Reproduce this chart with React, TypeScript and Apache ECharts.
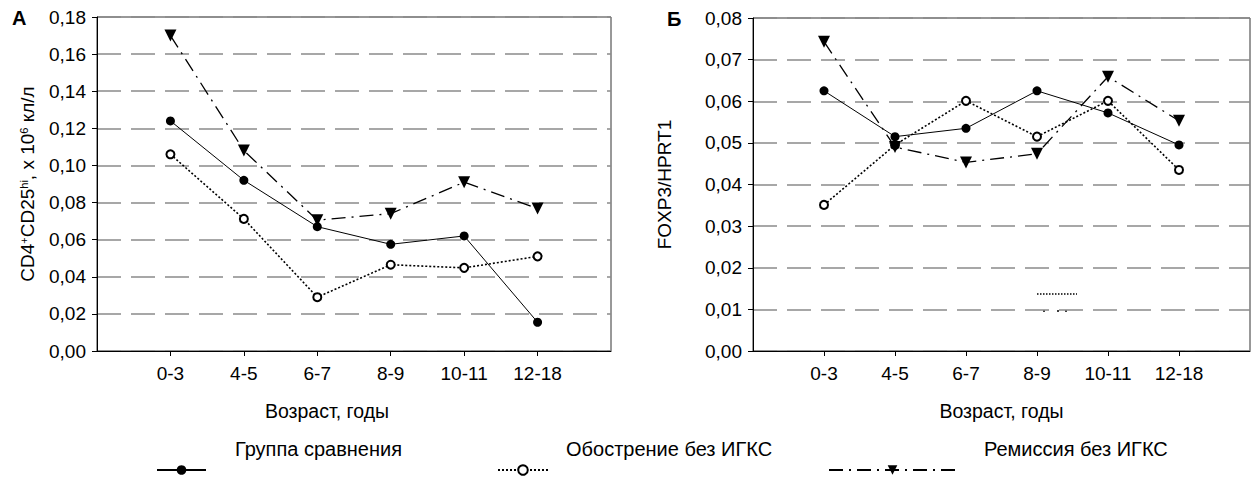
import React, { useEffect, useRef } from 'react';
import * as echarts from 'echarts';

const categories = ['0-3', '4-5', '6-7', '8-9', '10-11', '12-18'];
const seriesNames = ['Группа сравнения', 'Обострение без ИГКС', 'Ремиссия без ИГКС'];

const aComparison = [0.124, 0.092, 0.067, 0.0575, 0.062, 0.0155];
const aExacerbation = [0.106, 0.0712, 0.029, 0.0465, 0.0448, 0.051];
const aRemission = [0.170, 0.108, 0.0705, 0.074, 0.091, 0.0768];

const bComparison = [0.0625, 0.0515, 0.0535, 0.0625, 0.0572, 0.0495];
const bExacerbation = [0.0351, 0.0495, 0.0601, 0.0515, 0.0601, 0.0435];
const bRemission = [0.0743, 0.049, 0.0453, 0.0474, 0.0659, 0.0553];

const aAxis = { max: 0.18, interval: 0.02 };
const bAxis = { max: 0.08, interval: 0.01 };

const FONT = "'Liberation Sans', Arial, sans-serif";

const axisCats = ['', ...categories, ''];
const pad = (v: number[]) => [null, ...v, null];

const styles: any[] = [
  {
    symbol: 'circle',
    symbolSize: 9,
    itemStyle: { color: '#000' },
    lineStyle: { color: '#000', width: 1, type: 'solid' },
  },
  {
    symbol: 'emptyCircle',
    symbolSize: 8,
    itemStyle: { color: '#000', borderColor: '#000', borderWidth: 1 },
    lineStyle: { color: '#000', width: 1.6, type: [2, 2] },
  },
  {
    symbol: 'triangle',
    symbolRotate: 180,
    symbolSize: 12,
    itemStyle: { color: '#000' },
    lineStyle: { color: '#000', width: 1.3, type: [14, 6, 2, 6] },
  },
];

function makeSeries(vals: number[], idx: number, gi: number) {
  return {
    type: 'line',
    name: seriesNames[idx],
    xAxisIndex: gi,
    yAxisIndex: gi,
    data: pad(vals),
    connectNulls: false,
    ...styles[idx],
  };
}

function xAxisCfg(gi: number, nameShift: number) {
  return {
    type: 'category',
    gridIndex: gi,
    data: axisCats,
    boundaryGap: false,
    axisLine: { lineStyle: { color: '#000', width: 1 } },
    axisTick: {
      length: 5,
      interval: (i: number) => i > 0 && i < axisCats.length - 1,
      lineStyle: { color: '#000' },
    },
    axisLabel: { interval: 0, color: '#000', fontSize: 19, fontFamily: FONT, margin: 13 },
    name: 'Возраст, годы',
    nameLocation: 'middle',
    nameGap: 50,
    nameTextStyle: {
      color: '#000',
      fontSize: 19.5,
      fontFamily: FONT,
      padding: nameShift > 0 ? [0, nameShift * 2, 0, 0] : 0,
    },
    splitLine: { show: false },
  };
}

function yAxisCfg(gi: number, ax: { max: number; interval: number }, name: string, gap: number, rich?: any) {
  return {
    type: 'value',
    gridIndex: gi,
    min: 0,
    max: ax.max,
    interval: ax.interval,
    axisLine: { show: true, lineStyle: { color: '#000', width: 1 } },
    axisTick: { show: true, length: 5, lineStyle: { color: '#000' } },
    axisLabel: {
      color: '#000',
      fontSize: 19,
      fontFamily: FONT,
      margin: 11,
      formatter: (v: number) => v.toFixed(2).replace('.', ','),
    },
    splitLine: { show: true, lineStyle: { color: '#8a8a8a', width: 1.5, type: [24, 10] } },
    name,
    nameLocation: 'middle',
    nameRotate: 90,
    nameGap: gap,
    nameTextStyle: { color: '#000', fontSize: 19, fontFamily: FONT, rich },
  };
}

function legendCfg(idx: number, left: number, width: number, textGap: number) {
  return {
    data: [seriesNames[idx]],
    left,
    top: 439,
    padding: 0,
    itemWidth: width,
    itemHeight: 12,
    selectedMode: false,
    formatter: '{t|{name}}',
    textStyle: {
      color: '#000',
      fontSize: 20,
      fontFamily: FONT,
      rich: {
        t: { color: '#000', fontSize: 20, fontFamily: FONT, padding: [0, 0, 42, textGap] },
      },
    },
  };
}

export default function App() {
  const ref = useRef<HTMLDivElement>(null);
  useEffect(() => {
    document.body.style.margin = '0';
    if (!ref.current) return;
    const chart = echarts.init(ref.current, undefined, { renderer: 'svg' });
    const supRich = {
      a: { fontSize: 19, fontFamily: FONT, color: '#000' },
      s: { fontSize: 11, fontFamily: FONT, color: '#000', verticalAlign: 'top', padding: [0, 0, 8, 0] },
    };
    chart.setOption({
      animation: false,
      backgroundColor: '#fff',
      textStyle: { fontFamily: FONT },
      grid: [
        { left: 97, top: 17, width: 514, height: 334, show: true, borderColor: '#333', borderWidth: 1, backgroundColor: 'transparent' },
        { left: 753, top: 18, width: 514, height: 333, show: true, borderColor: '#333', borderWidth: 1, backgroundColor: 'transparent' },
      ],
      xAxis: [xAxisCfg(0, 27), xAxisCfg(1, 0)],
      yAxis: [
        yAxisCfg(0, aAxis, '{a|CD4}{s|+}{a|CD25}{s|hi}{a|, x 10}{s|6}{a| кл/л}', 60, supRich),
        yAxisCfg(1, bAxis, 'FOXP3/HPRT1', 79),
      ],
      legend: [legendCfg(0, 156, 49, 24), legendCfg(1, 497, 50, 13), legendCfg(2, 828, 127, 23)],
      series: [
        makeSeries(aComparison, 0, 0),
        makeSeries(aExacerbation, 1, 0),
        makeSeries(aRemission, 2, 0),
        makeSeries(bComparison, 0, 1),
        makeSeries(bExacerbation, 1, 1),
        makeSeries(bRemission, 2, 1),
      ],
      graphic: [
        { type: 'text', left: 12, top: 8, style: { text: 'А', font: `bold 20px ${FONT}`, fill: '#000' } },
        { type: 'text', left: 667, top: 9, style: { text: 'Б', font: `bold 20px ${FONT}`, fill: '#000' } },
        { type: 'line', shape: { x1: 1037, y1: 294, x2: 1077, y2: 294 }, style: { stroke: '#000', lineWidth: 1.5, lineDash: [1.5, 1.5] } },
        { type: 'line', shape: { x1: 1043, y1: 311, x2: 1077, y2: 311 }, style: { stroke: '#000', lineWidth: 1.5, lineDash: [2, 12, 2, 6] } },
      ],
    });
    return () => chart.dispose();
  }, []);
  return <div ref={ref} style={{ width: 1253, height: 480 }} />;
}
